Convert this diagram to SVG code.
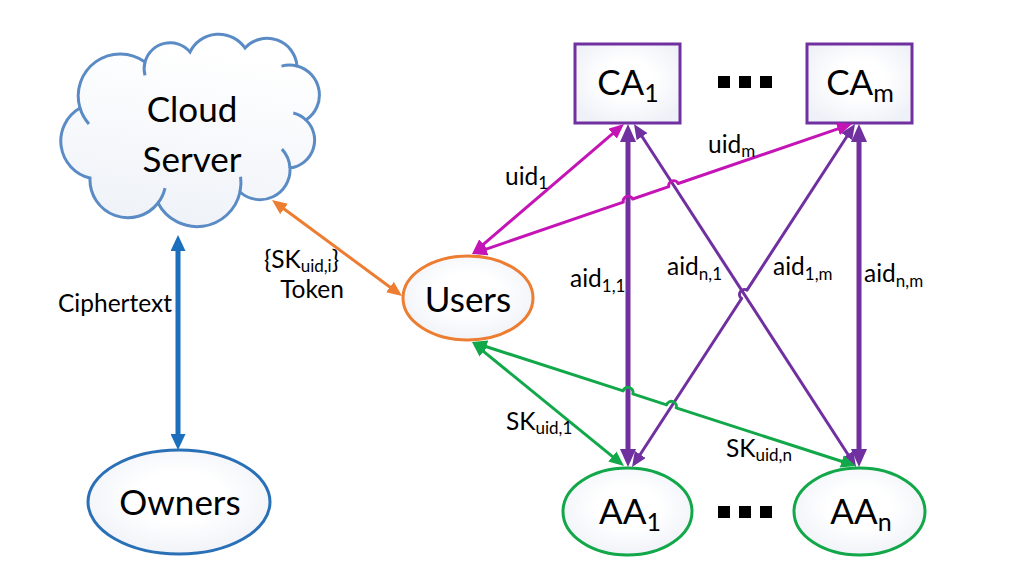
<svg xmlns="http://www.w3.org/2000/svg" width="1021" height="581" viewBox="0 0 1021 581">
<style>
text{font-family:Lato,"Liberation Sans",sans-serif;fill:#000}
.big{font-size:35px}
.bsub{font-size:25px}
.lbl{font-size:24.5px}
.sub{font-size:17px}
.c{fill:none;stroke-linejoin:round}
.blue{stroke:#1b6fbd;stroke-width:5}
.orange{stroke:#ed7d31;stroke-width:3}
.mag{stroke:#c514b5;stroke-width:3}
.green{stroke:#12a84a;stroke-width:3}
.pthick{stroke:#7030a0;stroke-width:5}
.pthin{stroke:#7030a0;stroke-width:3}
.node{fill:url(#gNode);stroke-width:3}
</style>
<defs>
<linearGradient id="gCloud" x1="0.2" y1="0" x2="0" y2="1">
<stop offset="0" stop-color="#ffffff"/><stop offset="1" stop-color="#edf1f7"/>
</linearGradient>
<radialGradient id="gNode" cx="0.5" cy="0.45" r="0.6">
<stop offset="0.4" stop-color="#ffffff"/><stop offset="1" stop-color="#eef1f7"/>
</radialGradient>
<marker id="mBlue" viewBox="0 0 16 15" markerWidth="16" markerHeight="15" refX="8" refY="7.5" markerUnits="userSpaceOnUse" orient="auto-start-reverse"><path d="M0,0 L16,7.5 L0,15 z" fill="#1b6fbd"/></marker>
<marker id="mOrange" viewBox="0 0 15 13" markerWidth="15" markerHeight="13" refX="7" refY="6.5" markerUnits="userSpaceOnUse" orient="auto-start-reverse"><path d="M0,0 L15,6.5 L0,13 z" fill="#ed7d31"/></marker>
<marker id="mMag" viewBox="0 0 15 13" markerWidth="15" markerHeight="13" refX="7" refY="6.5" markerUnits="userSpaceOnUse" orient="auto-start-reverse"><path d="M0,0 L15,6.5 L0,13 z" fill="#c514b5"/></marker>
<marker id="mGreen" viewBox="0 0 15 13" markerWidth="15" markerHeight="13" refX="7" refY="6.5" markerUnits="userSpaceOnUse" orient="auto-start-reverse"><path d="M0,0 L15,6.5 L0,13 z" fill="#12a84a"/></marker>
<marker id="mPurpleBig" viewBox="0 0 18 16" markerWidth="18" markerHeight="16" refX="9" refY="8" markerUnits="userSpaceOnUse" orient="auto-start-reverse"><path d="M0,0 L18,8 L0,16 z" fill="#7030a0"/></marker>
<marker id="mPurple" viewBox="0 0 15 13" markerWidth="15" markerHeight="13" refX="7" refY="6.5" markerUnits="userSpaceOnUse" orient="auto-start-reverse"><path d="M0,0 L15,6.5 L0,13 z" fill="#7030a0"/></marker>
</defs>
<rect x="0" y="0" width="1021" height="581" fill="#ffffff"/>

<g id="cloud-server">
<path d="M 80 108 A 42 42 0 0 1 145 62 A 26 26 0 0 1 190 52 A 32 32 0 0 1 245 48 A 30 30 0 0 1 297 66 A 30 30 0 0 1 306 120 A 28 28 0 0 1 290 168 A 30 30 0 0 1 240 192 A 44 44 0 0 1 158 203 A 38 38 0 0 1 90 178 A 38 38 0 0 1 80 108 Z" fill="url(#gCloud)" stroke="#5b8bc5" stroke-width="3"/>
<g fill="none" stroke="#5b8bc5" stroke-width="3">
<path d="M 88.9 123.9 A 42 42 0 0 1 80 108"/>
<path d="M 145 75.4 A 26 26 0 0 1 145 62"/>
<path d="M 281.5 66.1 A 30 30 0 0 1 297 66"/>
<path d="M 293.3 113 A 28 28 0 0 1 306 120"/>
<path d="M 281.9 149.1 A 30 30 0 0 1 290 168"/>
<path d="M 240.6 176.7 A 44 44 0 0 1 240 192"/>
<path d="M 165 188.1 A 38 38 0 0 1 158 203"/>
</g>
<text x="192" y="122" class="big" text-anchor="middle">Cloud</text>
<text x="192" y="172" class="big" text-anchor="middle">Server</text>
</g>

<g id="owners">
<ellipse cx="179" cy="502" rx="91" ry="52" class="node" stroke="#2a70b6"/>
<text x="180" y="515" class="big" text-anchor="middle">Owners</text>
</g>

<g id="users">
<ellipse cx="468" cy="298" rx="65" ry="42" class="node" stroke="#ed7d31"/>
<text x="468" y="312" class="big" text-anchor="middle">Users</text>
</g>

<g id="ca1">
<rect x="575" y="44" width="105" height="79" class="node" stroke="#7030a0"/>
<text x="628" y="95" class="big" text-anchor="middle">CA<tspan class="bsub" dy="7">1</tspan></text>
</g>

<g id="cam">
<rect x="807" y="44" width="105" height="79" class="node" stroke="#7030a0"/>
<text x="860" y="95" class="big" text-anchor="middle">CA<tspan class="bsub" dy="7">m</tspan></text>
</g>

<g id="aa1">
<ellipse cx="627.5" cy="511.5" rx="64.5" ry="43.5" class="node" stroke="#12a84a"/>
<text x="630" y="524" class="big" text-anchor="middle">AA<tspan class="bsub" dy="7">1</tspan></text>
</g>

<g id="aan">
<ellipse cx="859.5" cy="511.5" rx="65.5" ry="43.5" class="node" stroke="#12a84a"/>
<text x="861" y="524" class="big" text-anchor="middle">AA<tspan class="bsub" dy="7">n</tspan></text>
</g>

<g id="ellipsis-top" fill="#000">
<rect x="718" y="76" width="12" height="12"/>
<rect x="739" y="76" width="12" height="12"/>
<rect x="760" y="76" width="12" height="12"/>
</g>
<g id="ellipsis-bottom" fill="#000">
<rect x="718" y="506" width="12" height="12"/>
<rect x="739" y="506" width="12" height="12"/>
<rect x="760" y="506" width="12" height="12"/>
</g>

<g id="connectors">
<path class="c blue" d="M 178 243 L 178 442" marker-start="url(#mBlue)" marker-end="url(#mBlue)"/>
<path class="c orange" d="M 278.4 204.8 L 395.6 291.2" marker-start="url(#mOrange)" marker-end="url(#mOrange)"/>
<path class="c pthick" d="M 628 133 L 628 458" marker-start="url(#mPurpleBig)" marker-end="url(#mPurpleBig)"/>
<path class="c pthick" d="M 859 133 L 859 458" marker-start="url(#mPurpleBig)" marker-end="url(#mPurpleBig)"/>
<path class="c pthin" d="M 638.3 130.7 L 851.7 460.3" marker-start="url(#mPurple)" marker-end="url(#mPurple)"/>
<path class="c pthin" d="M 850.6 130.7 L 747 290.1 A 5 5 0 0 0 741.6 298.5 L 636.4 460.3" marker-start="url(#mPurple)" marker-end="url(#mPurple)"/>
<path class="c mag" d="M 478.1 248.8 L 617.9 129.2" marker-start="url(#mMag)" marker-end="url(#mMag)"/>
<path class="c mag" d="M 479.6 251.4 L 623.3 202.2 A 5 5 0 0 1 632.7 199 L 668.8 186.7 A 5 5 0 0 1 678.2 183.5 L 844.4 126.6" marker-start="url(#mMag)" marker-end="url(#mMag)"/>
<path class="c green" d="M 478.2 347.1 L 617.8 460.9" marker-start="url(#mGreen)" marker-end="url(#mGreen)"/>
<path class="c green" d="M 479.6 344.5 L 623.2 390.9 A 5 5 0 0 1 632.8 393.9 L 666.6 404.9 A 5 5 0 0 1 676.2 407.9 L 848.4 463.5" marker-start="url(#mGreen)" marker-end="url(#mGreen)"/>
</g>

<g id="labels">
<text x="58" y="312" class="lbl">Ciphertext</text>
<text x="264" y="268" class="lbl">{SK<tspan class="sub" dy="4">uid,i</tspan><tspan dy="-4">}</tspan></text>
<text x="312" y="298" class="lbl" text-anchor="middle">Token</text>
<text x="505" y="185" class="lbl">uid<tspan class="sub" dy="4">1</tspan></text>
<text x="708" y="153" class="lbl">uid<tspan class="sub" dy="4">m</tspan></text>
<text x="570" y="287" class="lbl">aid<tspan class="sub" dy="5">1,1</tspan></text>
<text x="667" y="275" class="lbl">aid<tspan class="sub" dy="5">n,1</tspan></text>
<text x="773" y="275" class="lbl">aid<tspan class="sub" dy="5">1,m</tspan></text>
<text x="864" y="282" class="lbl">aid<tspan class="sub" dy="5">n,m</tspan></text>
<text x="506" y="430" class="lbl">SK<tspan class="sub" dy="4">uid,1</tspan></text>
<text x="726" y="457" class="lbl">SK<tspan class="sub" dy="4">uid,n</tspan></text>
</g>
</svg>
